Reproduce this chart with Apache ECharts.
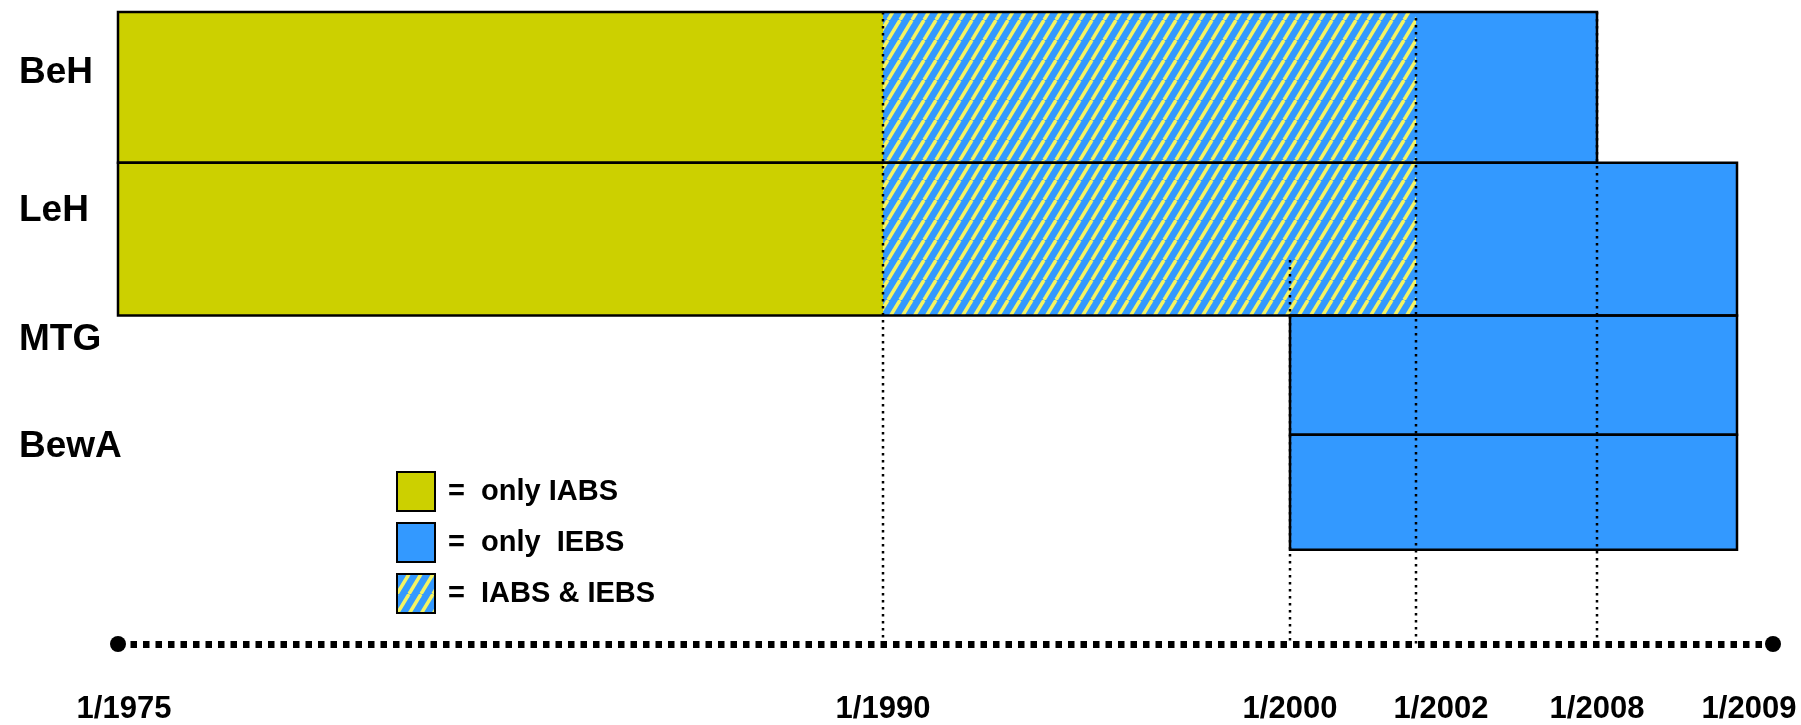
<!DOCTYPE html>
<html>
<head>
<meta charset="utf-8">
<title>IABS / IEBS</title>
<style>
  html, body { margin: 0; padding: 0; background: #fff; }
  #main { width: 1801px; height: 725px; }
</style>
<script src="https://cdn.jsdelivr.net/npm/echarts@6/dist/echarts.min.js"></script>
</head>
<body>
<div id="main"></div>
<script>
// rows, top to bottom
const rows = ['BeH', 'LeH', 'MTG', 'BewA'];
// schematic time line: milestone labels and their place on the axis
const milestones = ['1/1975', '1/1990', '1/2000', '1/2002', '1/2008', '1/2009'];
const milestoneX = [0, 765, 1172, 1298, 1479, 1619];
const axisEnd = 1655;
// periods: [row, from, to]
const onlyIABS = [['BeH', '1/1975', '1/1990'], ['LeH', '1/1975', '1/1990']];
const bothIABSIEBS = [['BeH', '1/1990', '1/2002'], ['LeH', '1/1990', '1/2002']];
const onlyIEBS = [
  ['BeH', '1/2002', '1/2008'],
  ['LeH', '1/2002', '1/2009'],
  ['MTG', '1/2000', '1/2009'],
  ['BewA', '1/2000', '1/2009']
];
// dotted guides down to the time line: [milestone, starts at]
const guides = [['1/1990', 0], ['1/2000', 250], ['1/2002', 6], ['1/2008', 0]];

// layout (y units = px below the top of the plot)
const rowBand = [[0, 152], [152, 306], [306, 426], [426, 542]];
const rowLabelY = [61, 200, 330, 438];
const axisY = 637;
const labelShift = { '1/1975': 6, '1/2002': 25, '1/2009': 12 };
const font = "'Liberation Sans', Arial, Helvetica, sans-serif";

function toX(m) {
  return milestoneX[milestones.indexOf(m)];
}
function toItems(list) {
  return list.map(function (p) {
    return [toX(p[1]), toX(p[2]), rows.indexOf(p[0])];
  });
}

// blue with yellow diagonal stripes
function stripes() {
  const c = document.createElement('canvas');
  c.width = 12;
  c.height = 20;
  const g = c.getContext('2d');
  g.fillStyle = '#3399ff';
  g.fillRect(0, 0, 12, 20);
  g.strokeStyle = '#f4f463';
  g.lineWidth = 3.5;
  for (let k = -1; k <= 1; k++) {
    g.beginPath();
    g.moveTo(k * 12, 20);
    g.lineTo(k * 12 + 12, 0);
    g.stroke();
  }
  return c;
}
const hatch = { image: stripes(), repeat: 'repeat' };

function bandRenderer(fill) {
  return function (params, api) {
    const r = api.value(2);
    const p0 = api.coord([api.value(0), rowBand[r][0]]);
    const p1 = api.coord([api.value(1), rowBand[r][1]]);
    return {
      type: 'rect',
      shape: { x: p0[0], y: p0[1], width: p1[0] - p0[0], height: p1[1] - p0[1] },
      style: { fill: fill, stroke: null }
    };
  };
}

// outline of each row = first start .. last end
const allItems = toItems(onlyIABS.concat(bothIABSIEBS, onlyIEBS));
const outlines = rows.map(function (name, i) {
  const mine = allItems.filter(function (d) { return d[2] === i; });
  return [
    Math.min.apply(null, mine.map(function (d) { return d[0]; })),
    Math.max.apply(null, mine.map(function (d) { return d[1]; })),
    i
  ];
});

const rich = {};
Object.keys(labelShift).forEach(function (k, i) {
  rich['s' + i] = {
    padding: [0, 0, 0, labelShift[k] * 2],
    fontSize: 31, fontWeight: 'bold', color: '#000', fontFamily: font
  };
});

function bandSeries(name, list, fill) {
  return {
    name: name,
    type: 'custom',
    z: 2,
    silent: true,
    encode: { x: [0, 1] },
    itemStyle: { color: fill },
    renderItem: bandRenderer(fill),
    data: toItems(list)
  };
}

let myChart = echarts.init(document.getElementById('main'));
var option = {
  animation: false,
  grid: { left: 118, right: 28, top: 12, bottom: 76 },
  xAxis: {
    type: 'value',
    min: 0,
    max: axisEnd,
    splitLine: { show: false },
    axisTick: { show: false },
    axisLine: {
      show: true,
      onZero: false,
      symbol: ['circle', 'circle'],
      symbolSize: [16, 16],
      lineStyle: { color: '#000', width: 7, type: [6.5, 6], cap: 'butt' }
    },
    axisLabel: {
      customValues: milestoneX,
      margin: 50,
      fontSize: 31,
      fontWeight: 'bold',
      color: '#000',
      fontFamily: font,
      rich: rich,
      formatter: function (v) {
        const m = milestones[milestoneX.indexOf(v)];
        const k = Object.keys(labelShift).indexOf(m);
        return k >= 0 ? '{s' + k + '|' + m + '}' : m;
      }
    }
  },
  yAxis: {
    type: 'value',
    inverse: true,
    min: 0,
    max: axisY,
    splitLine: { show: false },
    axisTick: { show: false },
    axisLine: { show: false },
    axisLabel: {
      customValues: rowLabelY,
      align: 'left',
      margin: 99,
      fontSize: 37,
      fontWeight: 'bold',
      color: '#000',
      fontFamily: font,
      formatter: function (v) {
        return rows[rowLabelY.indexOf(v)];
      }
    }
  },
  legend: {
    orient: 'vertical',
    left: 396,
    top: 471,
    padding: 0,
    icon: 'rect',
    itemWidth: 38,
    itemHeight: 39,
    itemGap: 10,
    selectedMode: false,
    itemStyle: { borderColor: '#000', borderWidth: 2 },
    data: ['only IABS', 'only  IEBS', 'IABS & IEBS'],
    formatter: function (n) { return '=  ' + n; },
    textStyle: {
      fontSize: 29, fontWeight: 'bold', color: '#000', fontFamily: font,
      padding: [0, 0, 0, 8]
    }
  },
  series: [
    bandSeries('only IABS', onlyIABS, '#ccd000'),
    bandSeries('only  IEBS', onlyIEBS, '#3399ff'),
    bandSeries('IABS & IEBS', bothIABSIEBS, hatch),
    {
      // black frame round each row
      type: 'custom',
      z: 3,
      silent: true,
      encode: { x: [0, 1] },
      renderItem: function (params, api) {
        const r = api.value(2);
        const p0 = api.coord([api.value(0), rowBand[r][0]]);
        const p1 = api.coord([api.value(1), rowBand[r][1]]);
        return {
          type: 'rect',
          shape: { x: p0[0], y: p0[1], width: p1[0] - p0[0], height: p1[1] - p0[1] },
          style: { fill: null, stroke: '#000', lineWidth: 2.5 }
        };
      },
      data: outlines
    },
    {
      // dotted guides
      type: 'custom',
      z: 4,
      silent: true,
      encode: { x: 0, y: 1 },
      renderItem: function (params, api) {
        const a = api.coord([api.value(0), api.value(1)]);
        const b = api.coord([api.value(0), axisY]);
        return {
          type: 'line',
          shape: { x1: a[0], y1: a[1], x2: b[0], y2: b[1] },
          style: { stroke: '#000', lineWidth: 2.5, lineDash: [2.5, 4.5] }
        };
      },
      data: guides.map(function (g) { return [toX(g[0]), g[1]]; })
    }
  ]
};
myChart.setOption(option);
window.onresize = myChart.resize;
</script>
</body>
</html>
